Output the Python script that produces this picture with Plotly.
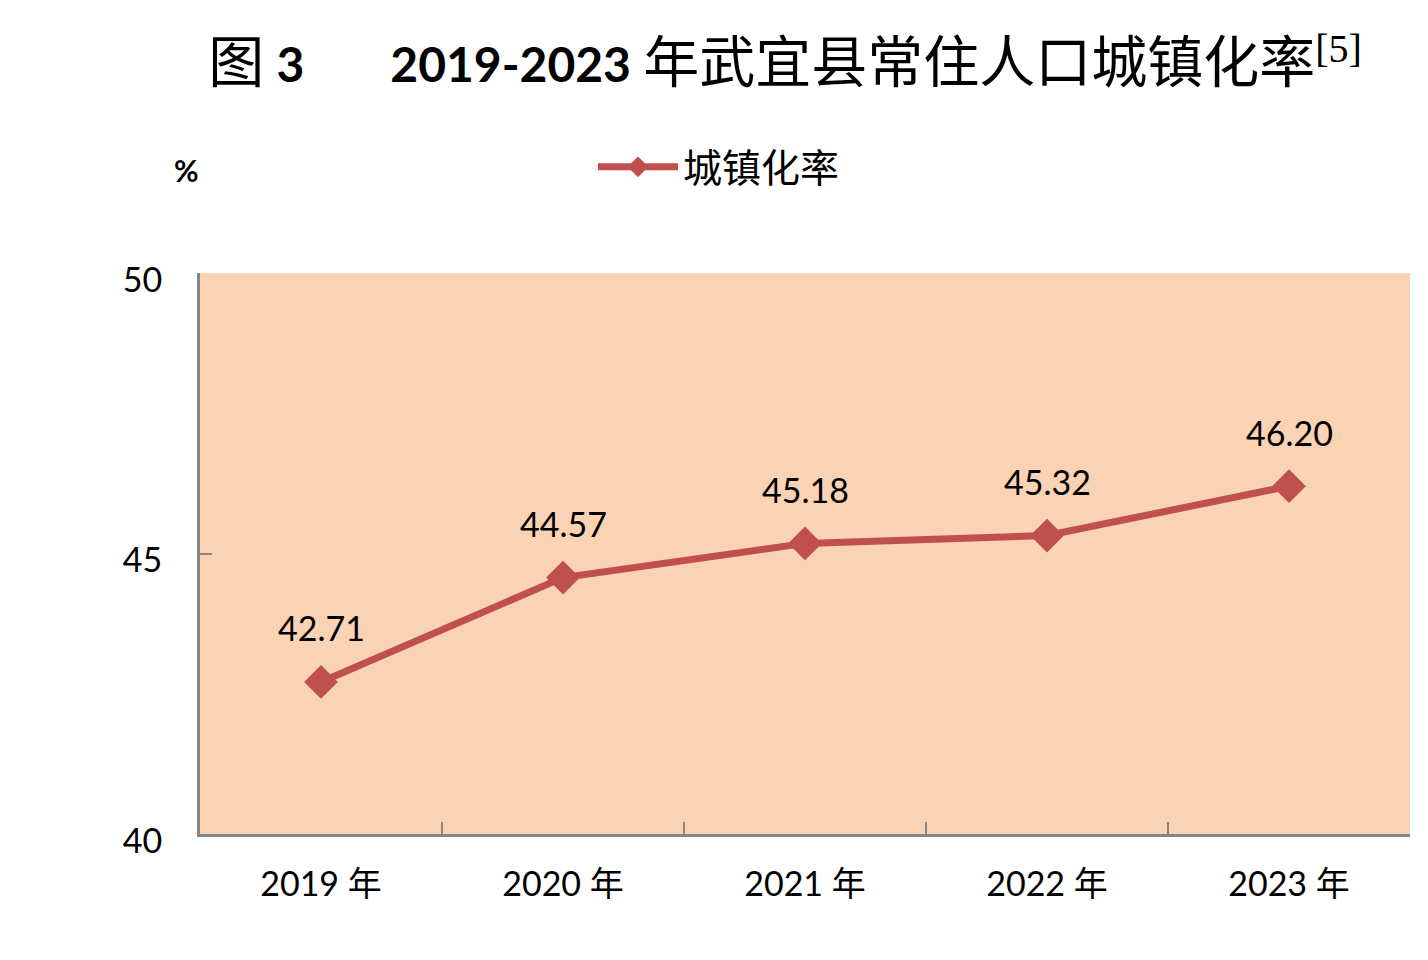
import plotly.graph_objects as go

years = ['2019 年', '2020 年', '2021 年', '2022 年', '2023 年']
rate = [42.71, 44.57, 45.18, 45.32, 46.20]
rate_labels = ['42.71', '44.57', '45.18', '45.32', '46.20']
y_ticks = [40, 45, 50]

num_font = 'Lato, Noto Sans CJK SC, sans-serif'
cjk_font = 'Noto Sans CJK SC, sans-serif'
red = '#C0504D'
grey = '#868686'

# plot area in page pixels (page has 8px body margin)
PL, PR, PT, PB = 200, 1410, 273, 834


def px_x(x):
    return (x - PL) / (PR - PL)


def px_y(y):
    return (PB - y) / (PB - PT)


fig = go.Figure()
fig.add_trace(go.Scatter(
    x=years,
    y=rate,
    mode='lines+markers',
    name='城镇化率',
    line=dict(color=red, width=7),
    marker=dict(symbol='diamond', size=26, color=red),
))

# data labels above each point
for x, y, t in zip(years, rate, rate_labels):
    fig.add_annotation(x=x, y=y, text=t, showarrow=False, yshift=54,
                       font=dict(family=num_font, size=34, color='black'))

fig.add_annotation(xref='paper', yref='paper', x=px_x(186), y=px_y(170),
                   xanchor='center', yanchor='middle',
                   text='<b>%</b>', showarrow=False,
                   font=dict(family=num_font, size=30, color='black'))

title_text = ('<span style="font-size:56px">图</span> <b>3</b>'
              + '&nbsp;' * 7
              + '<b>2019-2023</b> <span style="font-size:56px">年武宜县常住人口城镇化率</span>'
              + '<sup><span style="font-family:Liberation Serif;font-size:40px">[5]</span></sup>')

fig.update_layout(
    width=1420,
    height=952,
    margin=dict(l=192, r=18, t=265, b=126),
    paper_bgcolor='white',
    plot_bgcolor='#FAD3B4',
    title=dict(
        text=title_text,
        x=(785 - 8) / 1420, xanchor='center', y=1 - (65 - 8) / 952, yanchor='middle',
        font=dict(family=num_font, size=48, color='black'),
    ),
    showlegend=True,
    legend=dict(
        orientation='h', x=px_x(593), xanchor='left', y=px_y(167), yanchor='middle',
        font=dict(family=cjk_font, size=39, color='black'),
        itemwidth=80, bgcolor='rgba(0,0,0,0)',
    ),
    xaxis=dict(
        type='category', range=[-0.5, 4.5],
        showline=True, linecolor=grey, linewidth=3,
        ticks='inside', tickson='boundaries', ticklen=12, tickwidth=2, tickcolor=grey,
        showgrid=False, zeroline=False,
        tickfont=dict(family=num_font, size=34, color='black'),
        ticklabelstandoff=18,
    ),
    yaxis=dict(
        range=[40, 50], tickvals=y_ticks,
        showline=True, linecolor=grey, linewidth=3,
        ticks='inside', ticklen=12, tickwidth=2, tickcolor=grey,
        showgrid=False, zeroline=False,
        tickfont=dict(family=num_font, size=34, color='black'),
        ticklabelstandoff=28, ticklabelshift=7,
    ),
)

fig.write_html('out.html')
